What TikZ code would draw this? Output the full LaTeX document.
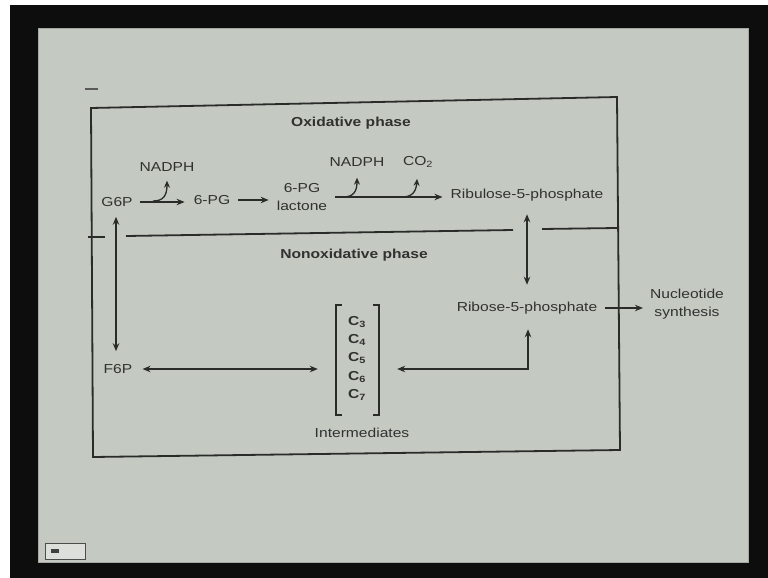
\documentclass[tikz,border=0pt]{standalone}
\usepackage{fontspec}
\setmainfont{Liberation Sans}[FakeStretch=1.2]
\usetikzlibrary{arrows.meta}
\definecolor{slidebg}{RGB}{196,201,193}
\definecolor{ink}{RGB}{48,50,48}
\definecolor{inkline}{RGB}{42,44,42}
\begin{document}
\begin{tikzpicture}[x=1pt,y=-1pt,
  font=\fontsize{13}{18}\selectfont,
  lbl/.style={inner sep=0pt, text=ink},
  ttl/.style={inner sep=0pt, text=ink, font=\fontsize{13}{18}\selectfont\bfseries},
  cbox/.style={inner sep=0pt, text=ink, font=\fontsize{13}{18}\selectfont\bfseries},
  tip/.style={-{Stealth[length=8pt,width=6.5pt]}},
  one/.style={draw=inkline, line width=1.3pt, -{Stealth[length=8pt,width=6.5pt]}},
  two/.style={draw=inkline, line width=1.3pt, {Stealth[length=8pt,width=6.5pt]}-{Stealth[length=8pt,width=6.5pt]}},
  branch/.style={draw=inkline, line width=1.3pt, -{Stealth[length=7pt,width=6pt]}},
  frame/.style={draw=inkline, line width=1.8pt}
]
\useasboundingbox (0,0) rectangle (768,578);
% screen and slide
\fill[white] (0,0) rectangle (768,578);
\fill[black!95] (10,5) rectangle (768,578);
\fill[slidebg] (38,28) rectangle (748,562);
\draw[gray!70, line width=0.8pt] (38,28) rectangle (748,562);

% stray mark and slide icon
\draw[gray!70!black, line width=1.6pt] (85,89) -- (98,89);
\draw[gray!60!black, fill=slidebg!60!white, line width=0.8pt] (45,543) rectangle (85,559);
\fill[gray!50!black] (51,549) rectangle (59,553);

% outer box
\draw[frame] (91,108) -- (617,97) -- (620,450) -- (93,457) -- cycle;
% divider
\draw[frame] (88,237) -- (105,237);
\draw[frame] (126,236) -- (513,230);
\draw[frame] (542,229) -- (617,228);

% titles
\node[ttl] (ox) at (351,123) {Oxidative phase};
\node[ttl] (nonox) at (354,255) {Nonoxidative phase};

% oxidative phase nodes
\node[lbl] (g6p) at (117,202) {G6P};
\node[lbl] (pg) at (212,200) {6-PG};
\node[lbl, align=center] (lac) at (302,197) {6-PG\\lactone};
\node[lbl] (ru5p) at (527,195) {Ribulose-5-phosphate};
\node[lbl] (nadph1) at (167,167) {NADPH};
\node[lbl] (nadph2) at (357,162) {NADPH};
\node[lbl] (co2) at (418,162) {CO\textsubscript{2}};

% nonoxidative phase nodes
\node[lbl] (f6p) at (118,369) {F6P};
\node[lbl] (r5p) at (527,308) {Ribose-5-phosphate};
\node[lbl, align=center] (nuc) at (687,304) {Nucleotide\\synthesis};
\node[cbox] (c3) at (357,322) {C\textsubscript{3}};
\node[cbox] (c4) at (357,340) {C\textsubscript{4}};
\node[cbox] (c5) at (357,358) {C\textsubscript{5}};
\node[cbox] (c6) at (357,377) {C\textsubscript{6}};
\node[cbox] (c7) at (357,395) {C\textsubscript{7}};
\node[inner sep=0pt, minimum width=43pt, minimum height=110pt] (brk) at (357.5,360) {};
\node[lbl] (int) at (362,433) {Intermediates};

% bracket
\draw[inkline, line width=1.5pt] ([xshift=6pt]brk.north west) -- (brk.north west) -- (brk.south west) -- ([xshift=6pt]brk.south west);
\draw[inkline, line width=1.5pt] ([xshift=-6pt]brk.north east) -- (brk.north east) -- (brk.south east) -- ([xshift=-6pt]brk.south east);

% oxidative arrows
\coordinate (b1) at (153,201);
\coordinate (b2) at (343,197);
\coordinate (b3) at (402,197);
\draw[one, shorten <=7pt, shorten >=9pt] (g6p.east) -- (g6p.east -| pg.west);
\draw[branch, shorten >=9pt] (b1) .. controls (163,201) and (167,196) .. (nadph1.south);
\draw[one, shorten <=8pt, shorten >=8pt] (pg.east) -- (pg.east -| lac.west);
\draw[one, shorten <=8pt, shorten >=8pt] (lac.east) -- (lac.east -| ru5p.west);
\draw[branch, shorten >=11pt] (b2) .. controls (353,197) and (357,192) .. (nadph2.south);
\draw[branch, shorten >=11pt] (b3) .. controls (412,197) and (416,192) .. (co2.south);

% vertical connectors
\draw[two, shorten <=13pt, shorten >=17pt] (ru5p.south) -- (r5p.north);
\draw[two, shorten <=10pt, shorten >=13pt] ([xshift=-1pt]g6p.south) -- ([xshift=-2pt]f6p.north);

% nonoxidative arrows
\draw[two, shorten <=10pt, shorten >=18pt] (f6p.east) -- (f6p.east -| brk.west);
\draw[two, shorten <=18pt, shorten >=15pt] (brk.east |- f6p.east) -| ([xshift=1pt]r5p.south);
\draw[one, shorten <=8pt, shorten >=7pt] (r5p.east) -- (r5p.east -| nuc.west);
\end{tikzpicture}
\end{document}
